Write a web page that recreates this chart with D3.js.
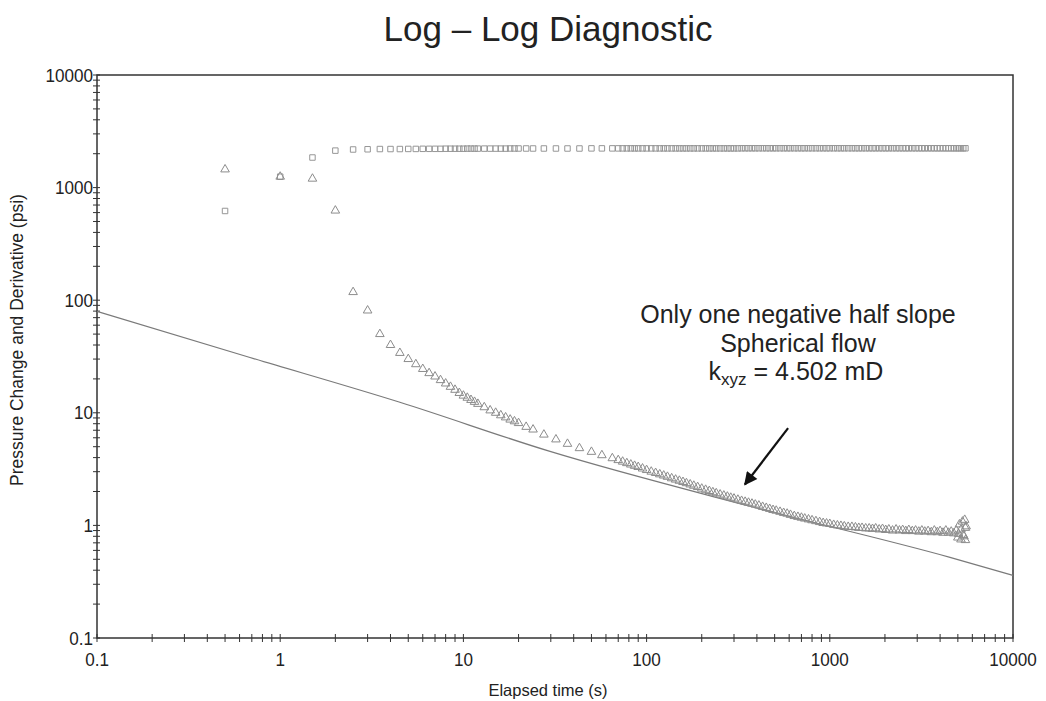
<!DOCTYPE html>
<html lang="en">
<head>
<meta charset="UTF-8">
<title>Log - Log Diagnostic</title>
<style>
    body {
        margin: 0;
        background: #fff;
        font-family: "Liberation Sans", Arial, sans-serif;
    }
    .tick-label {
        font-size: 19px;
        fill: #222;
    }
    .frame { stroke: #333; stroke-width: 1.5; fill: none; }
    .tick { stroke: #333; stroke-width: 1; }
    .sq { fill: none; stroke: #969696; stroke-width: 1; }
    .tri { fill: none; stroke: #8c8c8c; stroke-width: 1; }
    .model { fill: none; stroke: #7a7a7a; stroke-width: 1.2; }
</style>
</head>
<body>
<svg id="chart" width="1046" height="701"></svg>
<script src="https://d3js.org/d3.v7.min.js"></script>
<script>
// elapsed time (s) - shared by pressure change and derivative
const times = [
    0.5, 1, 1.5, 2, 2.5, 3, 3.5, 4, 4.5, 5,
    5.5, 6, 6.5, 7, 7.5, 8, 8.5, 9, 9.5, 10,
    10.5, 11, 11.5, 12, 13, 14, 15, 16, 17, 18,
    19, 20, 22, 24, 27.5, 32, 37, 43, 50, 57,
    65, 70, 74, 78, 82, 86, 90, 95, 100, 106,
    112, 118, 124, 130, 137, 144, 151, 158, 165, 173,
    181, 190, 200, 210, 220, 230, 240, 252, 264, 276,
    288, 300, 315, 330, 345, 360, 376, 392, 410, 430,
    450, 470, 490, 510, 535, 560, 585, 610, 640, 670,
    700, 730, 765, 800, 840, 880, 920, 960, 1000, 1050,
    1100, 1150, 1200, 1260, 1320, 1380, 1440, 1500, 1570, 1640,
    1710, 1780, 1860, 1940, 2020, 2100, 2200, 2300, 2400, 2500,
    2600, 2700, 2820, 2940, 3060, 3180, 3300, 3440, 3580, 3720,
    3860, 4000, 4150, 4300, 4450, 4600, 4750, 4900, 5050, 5200,
    5350, 5500
];

// pressure change (psi) - squares
const pressure = [
    620, 1250, 1850, 2130, 2180, 2190, 2200, 2200, 2200, 2205,
    2205, 2210, 2210, 2210, 2210, 2215, 2215, 2215, 2215, 2215,
    2220, 2220, 2220, 2220, 2220, 2220, 2220, 2220, 2220, 2225,
    2225, 2225, 2225, 2225, 2225, 2225, 2225, 2225, 2230, 2230,
    2230, 2230, 2230, 2230, 2230, 2230, 2230, 2230, 2230, 2230,
    2230, 2230, 2230, 2230, 2230, 2230, 2230, 2230, 2230, 2230,
    2230, 2230, 2230, 2230, 2230, 2230, 2230, 2230, 2230, 2230,
    2230, 2230, 2230, 2235, 2235, 2235, 2235, 2235, 2235, 2235,
    2235, 2235, 2235, 2235, 2235, 2235, 2235, 2235, 2235, 2235,
    2235, 2235, 2235, 2235, 2235, 2235, 2235, 2235, 2235, 2235,
    2235, 2235, 2235, 2235, 2235, 2235, 2235, 2235, 2235, 2235,
    2235, 2235, 2235, 2235, 2235, 2235, 2235, 2235, 2235, 2235,
    2235, 2235, 2235, 2235, 2235, 2235, 2235, 2235, 2235, 2235,
    2235, 2235, 2235, 2235, 2235, 2235, 2235, 2235, 2235, 2235,
    2235, 2235
];

// pressure derivative (psi) - triangles
const derivative = [
    1450, 1250, 1200, 625, 118, 81, 50, 40, 34, 30,
    27, 24.5, 22.5, 21, 19.5, 18.2, 17, 16, 15, 14.2,
    13.6, 13, 12.5, 12, 11.2, 10.5, 10, 9.5, 9.1, 8.7,
    8.4, 8.1, 7.5, 7.1, 6.4, 5.8, 5.3, 4.85, 4.5, 4.2,
    3.95, 3.8, 3.68, 3.57, 3.47, 3.38, 3.3, 3.2, 3.1, 3.0,
    2.92, 2.84, 2.77, 2.7, 2.62, 2.55, 2.49, 2.43, 2.37, 2.31,
    2.25, 2.19, 2.12, 2.07, 2.02, 1.97, 1.93, 1.88, 1.84, 1.8,
    1.76, 1.73, 1.69, 1.65, 1.62, 1.59, 1.56, 1.53, 1.5, 1.46,
    1.43, 1.4, 1.37, 1.35, 1.32, 1.29, 1.27, 1.24, 1.21, 1.19,
    1.17, 1.15, 1.13, 1.11, 1.09, 1.07, 1.05, 1.04, 1.03, 1.01,
    1.0, 0.99, 0.98, 0.97, 0.97, 0.96, 0.95, 0.95, 0.94, 0.94,
    0.93, 0.94, 0.92, 0.93, 0.91, 0.92, 0.9, 0.92, 0.9, 0.91,
    0.89, 0.91, 0.89, 0.9, 0.88, 0.9, 0.88, 0.89, 0.87, 0.9,
    0.87, 0.89, 0.86, 0.9, 0.86, 0.88, 0.85, 0.9, 0.84, 0.92,
    0.82, 0.95
];

// scattered derivative points at the end of the test
const tailTimes = [5000, 5100, 5200, 5300, 5400, 5450, 5500, 5550];
const tailDeriv = [0.78, 1.02, 0.75, 1.08, 0.8, 1.12, 0.74, 0.98];

// spherical flow model line
const modelTimes = [0.1, 0.684, 4.5, 29.7, 366, 4530, 10000];
const modelValues = [79.5, 31, 12.4, 4.54, 1.48, 0.52, 0.36];

const decades = [0.1, 1, 10, 100, 1000, 10000];
const decadeLabels = ["0.1", "1", "10", "100", "1000", "10000"];

const annotationLines = ["Only one negative half slope", "Spherical flow"];

const svg = d3.select("#chart");
const plotLeft = 97, plotRight = 1013, plotTop = 75, plotBottom = 638;
const narrow = 0.9; // tick labels are set in a condensed face

const x = d3.scaleLog().domain([0.1, 10000]).range([plotLeft, plotRight]);
const y = d3.scaleLog().domain([0.1, 10000]).range([plotBottom, plotTop]);

// all tick positions: 1..9 per decade
const allTicks = [];
decades.forEach((d, i) => {
    if (i === decades.length - 1) { allTicks.push(d); return; }
    for (let k = 1; k < 10; k++) allTicks.push(+(d * k).toPrecision(3));
});

// title
svg.append("text")
    .attr("x", 548).attr("y", 41)
    .attr("text-anchor", "middle")
    .style("font-size", "35px")
    .style("fill", "#222")
    .text("Log \u2013 Log Diagnostic");

// frame
svg.append("rect")
    .attr("class", "frame")
    .attr("x", plotLeft).attr("y", plotTop)
    .attr("width", plotRight - plotLeft).attr("height", plotBottom - plotTop);

// x ticks (cross the axis)
svg.append("g").selectAll("line")
    .data(allTicks)
    .enter().append("line")
    .attr("class", "tick")
    .attr("x1", d => x(d)).attr("x2", d => x(d))
    .attr("y1", plotBottom - 4).attr("y2", plotBottom + 4);

// y ticks
svg.append("g").selectAll("line")
    .data(allTicks)
    .enter().append("line")
    .attr("class", "tick")
    .attr("y1", d => y(d)).attr("y2", d => y(d))
    .attr("x1", plotLeft - 4).attr("x2", plotLeft + 3);

svg.append("g").selectAll("text")
    .data(decades)
    .enter().append("text")
    .attr("class", "tick-label")
    .attr("transform", d => `translate(${x(d)},${plotBottom + 28}) scale(${narrow},1)`)
    .attr("text-anchor", "middle")
    .text((d, i) => decadeLabels[i]);

svg.append("g").selectAll("text")
    .data(decades)
    .enter().append("text")
    .attr("class", "tick-label")
    .attr("transform", d => `translate(${plotLeft - 4},${y(d)}) scale(${narrow},1)`)
    .attr("dy", "0.35em")
    .attr("text-anchor", "end")
    .text((d, i) => decadeLabels[i]);

// axis titles
svg.append("text")
    .attr("x", 548).attr("y", 696)
    .attr("text-anchor", "middle")
    .style("font-size", "16.5px")
    .style("fill", "#222")
    .text("Elapsed time (s)");

svg.append("text")
    .attr("transform", "translate(23,340) rotate(-90)")
    .attr("text-anchor", "middle")
    .style("font-size", "17.5px")
    .style("fill", "#222")
    .text("Pressure Change and Derivative (psi)");

// model line
const line = d3.line()
    .x(d => x(d[0]))
    .y(d => y(d[1]))
    .curve(d3.curveMonotoneX);

svg.append("path")
    .attr("class", "model")
    .attr("d", line(modelTimes.map((t, i) => [t, modelValues[i]])));

// markers
const square = d3.symbol().type(d3.symbolSquare).size(30);
const triangle = d3.symbol().type(d3.symbolTriangle).size(32);

svg.append("g").selectAll("path")
    .data(times.map((t, i) => [t, pressure[i]]))
    .enter().append("path")
    .attr("class", "sq")
    .attr("d", square)
    .attr("transform", d => `translate(${x(d[0])},${y(d[1])})`);

const derivPts = times.map((t, i) => [t, derivative[i]])
    .concat(tailTimes.map((t, i) => [t, tailDeriv[i]]));

svg.append("g").selectAll("path")
    .data(derivPts)
    .enter().append("path")
    .attr("class", "tri")
    .attr("d", triangle)
    .attr("transform", d => `translate(${x(d[0])},${y(d[1])})`);

// annotation
const ann = svg.append("text")
    .attr("text-anchor", "middle")
    .style("font-size", "25px")
    .style("fill", "#222");
annotationLines.forEach((s, i) => {
    ann.append("tspan").attr("x", 798).attr("y", 323 + i * 28.5).text(s);
});
const kLine = svg.append("text")
    .attr("x", 796).attr("y", 380)
    .attr("text-anchor", "middle")
    .style("font-size", "25px")
    .style("fill", "#222");
kLine.append("tspan").text("k");
kLine.append("tspan").attr("dy", 5).style("font-size", "17px").text("xyz");
kLine.append("tspan").attr("dy", -5).text(" = 4.502 mD");

// arrow
svg.append("defs").append("marker")
    .attr("id", "head")
    .attr("viewBox", "0 0 10 10")
    .attr("refX", 9).attr("refY", 5)
    .attr("markerWidth", 7).attr("markerHeight", 6)
    .attr("markerUnits", "strokeWidth")
    .attr("orient", "auto")
    .append("path")
    .attr("d", "M0,0 L10,5 L0,10 Z")
    .attr("fill", "#111");

svg.append("line")
    .attr("x1", x(592)).attr("y1", y(7.3))
    .attr("x2", x(344)).attr("y2", y(2.31))
    .attr("stroke", "#111")
    .attr("stroke-width", 2.2)
    .attr("marker-end", "url(#head)");
</script>
</body>
</html>
